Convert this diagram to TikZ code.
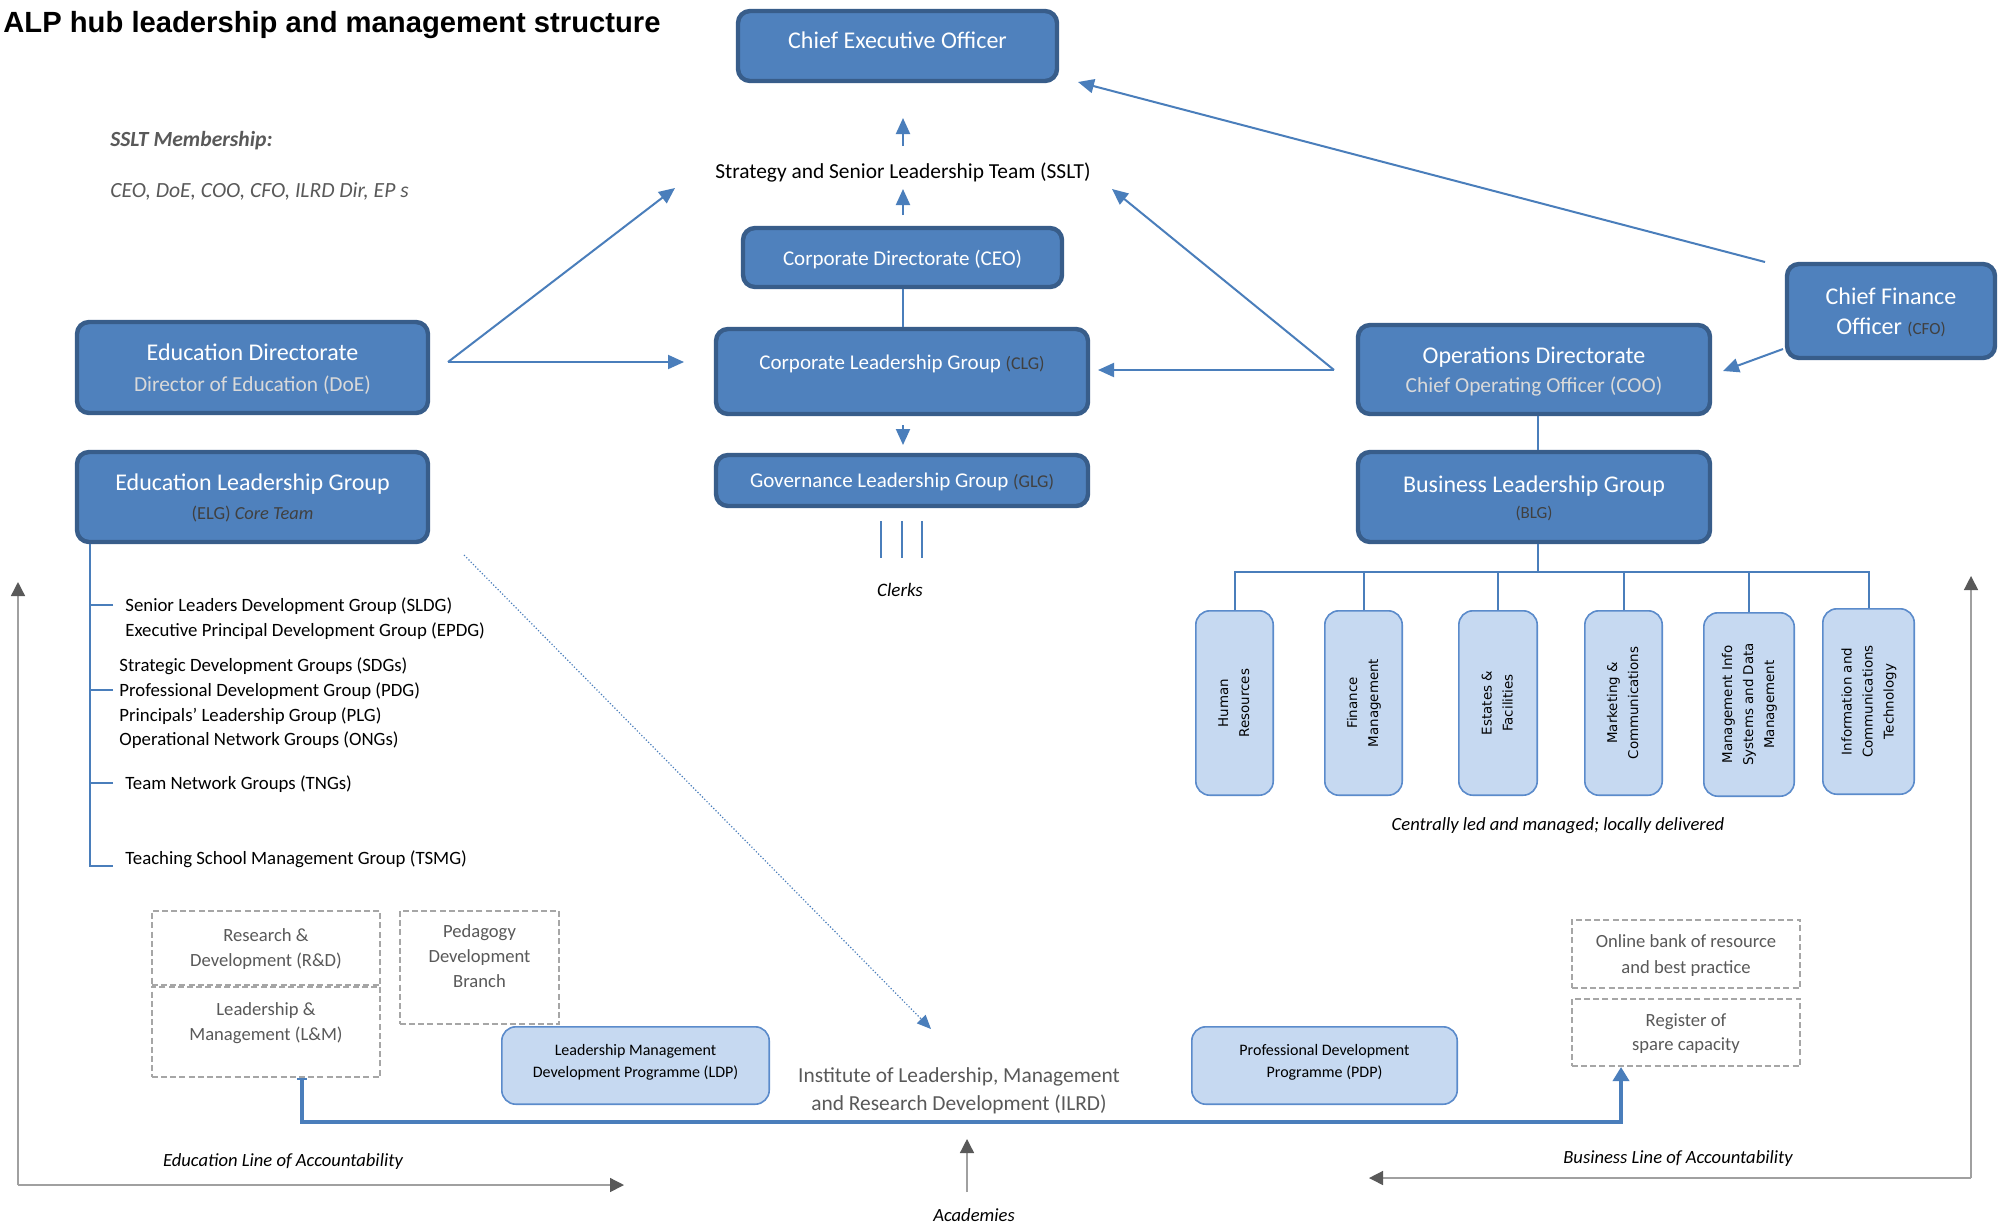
\documentclass[tikz,border=0pt]{standalone}
\usepackage{fontspec}
\usepackage{graphicx}
\setmainfont{Carlito}
\newfontfamily\titlefont{Liberation Sans}
\newfontfamily\vertfont{DejaVu Sans}
\usetikzlibrary{arrows.meta,calc}
\definecolor{boxfill}{HTML}{4F81BD}
\definecolor{boxline}{HTML}{385D8A}
\definecolor{lightfill}{HTML}{C6D9F1}
\definecolor{lightline}{HTML}{5B8BCB}
\definecolor{connc}{HTML}{4A7EBB}
\definecolor{subgray}{HTML}{D9D9D9}
\definecolor{darksub}{HTML}{404040}
\definecolor{txtgray}{HTML}{595959}
\definecolor{dashgray}{HTML}{A6A6A6}
\definecolor{accline}{HTML}{A0A0A0}
\definecolor{acctip}{HTML}{595959}
\newcommand{\myfs}[2]{\fontsize{#1}{#2}\selectfont}
\newcommand{\vlabel}[1]{\rotatebox{90}{\begin{tabular}{@{}c@{}}#1\end{tabular}}}
\begin{document}
\begin{tikzpicture}[
  x=0.5pt, y=-0.5pt,
  darkbox/.style={draw=boxline, fill=boxfill, line width=2.2pt, rounded corners=6pt, text=white, align=center, inner sep=0pt, text depth=0pt},
  lightbox/.style={draw=lightline, fill=lightfill, line width=0.8pt, rounded corners=7pt, inner sep=0pt, align=center},
  dashbox/.style={draw=dashgray, dash pattern=on 3pt off 1.6pt, line width=0.8pt, inner sep=0pt, text=txtgray, align=center, text depth=0pt},
  freetext/.style={inner sep=0pt, text depth=0pt},
  conn/.style={draw=connc, line width=1pt},
  arr/.style={conn, -{Triangle[length=8pt,width=7pt]}},
  acc/.style={draw=accline, line width=0.7pt, -{Triangle[length=7pt,width=7pt,color=acctip]}},
]
\fill[white] (0,0) rectangle (2006,1227);
\useasboundingbox (0,0) rectangle (2006,1227);

% title and membership
\node[freetext, anchor=base west, font=\titlefont\bfseries\myfs{14.6}{17}] (title) at (3,32) {ALP hub leadership and management structure};
\node[freetext, anchor=west, text=txtgray, font=\myfs{10.8}{13}\bfseries\itshape] (memh) at (110,139) {SSLT Membership:};
\node[freetext, anchor=west, text=txtgray, font=\myfs{10.8}{13}\itshape] (meml) at (110,190) {CEO, DoE, COO, CFO, ILRD Dir, EP s};

% central column
\node[darkbox, minimum width=159.5pt, minimum height=35pt] (ceo) at (897.5,46) {};
\node[freetext, text=white, font=\myfs{12}{14}] (ceot) at (897.5,40) {Chief Executive Officer};
\node[freetext, font=\myfs{10.7}{13}] (sslt) at (903,171) {Strategy and Senior Leadership Team (SSLT)};
\node[darkbox, minimum width=159.5pt, minimum height=29.5pt, font=\myfs{10.5}{12}] (cd) at (902.5,257.5) {Corporate Directorate (CEO)};
\node[darkbox, minimum width=186pt, minimum height=42.5pt] (clg) at (902,371.5) {};
\node[freetext, text=white, font=\myfs{10.5}{12}] (clgt) at (902,362) {Corporate Leadership Group {\color{darksub}\myfs{9}{11}(CLG)}};
\node[darkbox, minimum width=186pt, minimum height=25.5pt, font=\myfs{10.5}{12}] (glg) at (902,480.5) {Governance Leadership Group {\color{darksub}\myfs{9}{11}(GLG)}};
\node[freetext, font=\myfs{9.5}{11}\itshape] (clerks) at (900,590) {Clerks};

% left column
\node[darkbox, minimum width=175.5pt, minimum height=45.5pt, font=\myfs{12}{15.5}] (ed) at (252.5,367.5) {Education Directorate\\{\color{subgray}\myfs{10.7}{15.5}Director of Education (DoE)}};
\node[darkbox, minimum width=175.5pt, minimum height=45pt, font=\myfs{12}{14.5}] (elg) at (252.5,497) {Education Leadership Group\\{\color{darksub}\myfs{9.2}{14.5}(ELG) \textit{Core Team}}};

% right column
\node[darkbox, minimum width=176pt, minimum height=44.5pt, font=\myfs{12}{14.5}] (od) at (1534,369.5) {Operations Directorate\\{\color{subgray}\myfs{10.7}{14.5}Chief Operating Officer (COO)}};
\node[darkbox, minimum width=176pt, minimum height=45pt, font=\myfs{12}{13}] (blg) at (1534,497) {Business Leadership Group\\{\color{darksub}\myfs{8.5}{13}(BLG)}};
\node[darkbox, minimum width=104pt, minimum height=47pt, font=\myfs{12}{15}] (cfo) at (1891,311) {Chief Finance\\Officer {\color{darksub}\myfs{8.5}{15}(CFO)}};

% business units
\node[lightbox, minimum width=38.7pt, minimum height=92.2pt, font=\vertfont\myfs{6.7}{10.5}] (hr) at (1234.5,703) {\vlabel{Human\\Resources}};
\node[lightbox, minimum width=38.7pt, minimum height=92.2pt, font=\vertfont\myfs{6.7}{10.5}] (fin) at (1363.5,703) {\vlabel{Finance\\Management}};
\node[lightbox, minimum width=39.2pt, minimum height=92.2pt, font=\vertfont\myfs{6.7}{10.5}] (est) at (1498,703) {\vlabel{Estates \&\\Facilities}};
\node[lightbox, minimum width=38.7pt, minimum height=92.2pt, font=\vertfont\myfs{6.7}{10.5}] (mkt) at (1623.5,703) {\vlabel{Marketing \&\\Communications}};
\node[lightbox, minimum width=45.2pt, minimum height=91.7pt, font=\vertfont\myfs{6.7}{10.5}] (mis) at (1749,704.5) {\vlabel{Management Info\\Systems and Data\\Management}};
\node[lightbox, minimum width=45.7pt, minimum height=92.7pt, font=\vertfont\myfs{6.7}{10.5}] (ict) at (1868.5,701.5) {\vlabel{Information and\\Communications\\Technology}};
\node[freetext, font=\myfs{9.3}{11}\itshape] (central) at (1558,824) {Centrally led and managed; locally delivered};

% education groups list
\node[freetext, anchor=west, align=left, font=\myfs{9.4}{12.2}] (lst1) at (125,617) {Senior Leaders Development Group (SLDG)\\Executive Principal Development Group (EPDG)};
\node[freetext, anchor=west, align=left, font=\myfs{9.4}{12.3}] (lst2) at (119,702) {Strategic Development Groups (SDGs)\\Professional Development Group (PDG)\\Principals’ Leadership Group (PLG)\\Operational Network Groups (ONGs)};
\node[freetext, anchor=west, font=\myfs{9.4}{12}] (lst3) at (125,783) {Team Network Groups (TNGs)};
\node[freetext, anchor=west, font=\myfs{9.4}{12}] (lst4) at (125,858) {Teaching School Management Group (TSMG)};

% ILRD area
\node[dashbox, minimum width=114.2pt, minimum height=37.2pt, font=\myfs{9.3}{12.5}] (rd) at (266,948) {Research \&\\Development (R\&D)};
\node[dashbox, minimum width=114.2pt, minimum height=45.2pt] (lm) at (266,1032) {};
\node[freetext, text=txtgray, align=center, font=\myfs{9.3}{12.5}] (lmt) at (266,1021.5) {Leadership \&\\Management (L\&M)};
\node[dashbox, minimum width=79.7pt, minimum height=56.7pt] (ped) at (479.5,967.5) {};
\node[freetext, text=txtgray, align=center, font=\myfs{9.3}{12.5}] (pedt) at (479.5,956) {Pedagogy\\Development\\Branch};
\node[lightbox, minimum width=133.7pt, minimum height=38.7pt] (ldp) at (635.5,1065.5) {};
\node[freetext, align=center, font=\myfs{8}{11}] (ldpt) at (635.5,1061) {Leadership Management\\Development Programme (LDP)};
\node[freetext, text=txtgray, align=center, font=\myfs{10.7}{14}] (ilrd) at (959,1089) {Institute of Leadership, Management\\and Research Development (ILRD)};
\node[lightbox, minimum width=132.7pt, minimum height=38.7pt] (pdp) at (1324.5,1065.5) {};
\node[freetext, align=center, font=\myfs{8}{11}] (pdpt) at (1324.5,1061) {Professional Development\\Programme (PDP)};
\node[dashbox, minimum width=114.2pt, minimum height=34.2pt, font=\myfs{9.3}{13}] (onl) at (1686,954) {Online bank of resource\\and best practice};
\node[dashbox, minimum width=114.2pt, minimum height=33.7pt, font=\myfs{9.3}{12}] (reg) at (1686,1032.5) {Register of\\spare capacity};

% bottom labels
\node[freetext, font=\myfs{9.3}{11}\itshape] (eduline) at (283,1160) {Education Line of Accountability};
\node[freetext, font=\myfs{9.3}{11}\itshape] (busline) at (1678,1157) {Business Line of Accountability};
\node[freetext, font=\myfs{9.3}{11}\itshape] (acad) at (974,1215) {Academies};

% coordinates for connector ends
\coordinate (a1s) at (903,146); \coordinate (a1e) at (903,118);
\coordinate (a2s) at (903,215); \coordinate (a2e) at (903,189);
\coordinate (a4s) at (903,425); \coordinate (a4e) at (903,445);
\coordinate (edA) at (448,362); \coordinate (edS) at (675,188); \coordinate (edC) at (684,362);
\coordinate (odA) at (1334,370); \coordinate (odC) at (1098,370); \coordinate (odS) at (1112,189);
\coordinate (cfA) at (1765,262); \coordinate (cfE) at (1078,82);
\coordinate (cfB) at (1783,349); \coordinate (cfO) at (1723,371);
\coordinate (bus) at (1538,572);
\coordinate (dots) at (464,555); \coordinate (dote) at (931,1029);
\coordinate (lmb) at (302,1078); \coordinate (bl) at (302,1122); \coordinate (br) at (1621,1122); \coordinate (regb) at (1621,1067);
\coordinate (acs) at (967,1192); \coordinate (ace) at (967,1139);
\coordinate (ecorner) at (18,1185); \coordinate (eup) at (18,582); \coordinate (eright) at (624,1185);
\coordinate (bcorner) at (1971,1178); \coordinate (bup) at (1971,576); \coordinate (bleft) at (1369,1178);
\coordinate (tr0) at (90,544);
\coordinate (tk1) at (113,605); \coordinate (tk2) at (113,690); \coordinate (tk3) at (113,783); \coordinate (tk4) at (113,866);
\coordinate (ck1s) at (881,521); \coordinate (ck1e) at (881,558);
\coordinate (ck2s) at (902,521); \coordinate (ck2e) at (902,558);
\coordinate (ck3s) at (922,521); \coordinate (ck3e) at (922,558);

% connectors
\draw[arr] (a1s) -- (a1e);
\draw[arr] (a2s) -- (a2e);
\draw[conn] (cd.south) -- (cd.south |- clg.north);
\draw[arr] (a4s) -- (a4e);
\draw[arr] (edA) -- (edS);
\draw[arr] (edA) -- (edC);
\draw[arr] (odA) -- (odC);
\draw[arr] (odA) -- (odS);
\draw[arr] (cfA) -- (cfE);
\draw[arr] (cfB) -- (cfO);
\draw[conn] (od.south -| bus) -- (blg.north -| bus);
\draw[conn] (blg.south -| bus) -- (bus);
\draw[conn] (hr.north) -- (hr.north |- bus) -- (ict.north |- bus) -- (ict.north);
\draw[conn] (fin.north) -- (fin.north |- bus);
\draw[conn] (est.north) -- (est.north |- bus);
\draw[conn] (mkt.north) -- (mkt.north |- bus);
\draw[conn] (mis.north) -- (mis.north |- bus);
\draw[conn, line width=1.2pt] (ck1s) -- (ck1e);
\draw[conn, line width=1.2pt] (ck2s) -- (ck2e);
\draw[conn, line width=1.2pt] (ck3s) -- (ck3e);
\draw[conn, line width=1.2pt] (tr0) |- (tk4);
\draw[conn, line width=1.2pt] (tk1) -- (tk1 -| tr0);
\draw[conn, line width=1.2pt] (tk2) -- (tk2 -| tr0);
\draw[conn, line width=1.2pt] (tk3) -- (tk3 -| tr0);
\draw[draw=connc, line width=0.6pt, densely dotted, -{Triangle[length=7pt,width=6pt]}] (dots) -- (dote);
\draw[draw=connc, line width=2pt, {Bar[width=5pt,line width=0.8pt]}-{Triangle[length=7pt,width=8pt]}] (lmb) -- (bl) -- (br) -- (regb);
\draw[acc] (acs) -- (ace);
\draw[acc] (ecorner) -- (eup);
\draw[acc] (ecorner) -- (eright);
\draw[acc] (bcorner) -- (bup);
\draw[acc] (bcorner) -- (bleft);
\end{tikzpicture}
\end{document}
